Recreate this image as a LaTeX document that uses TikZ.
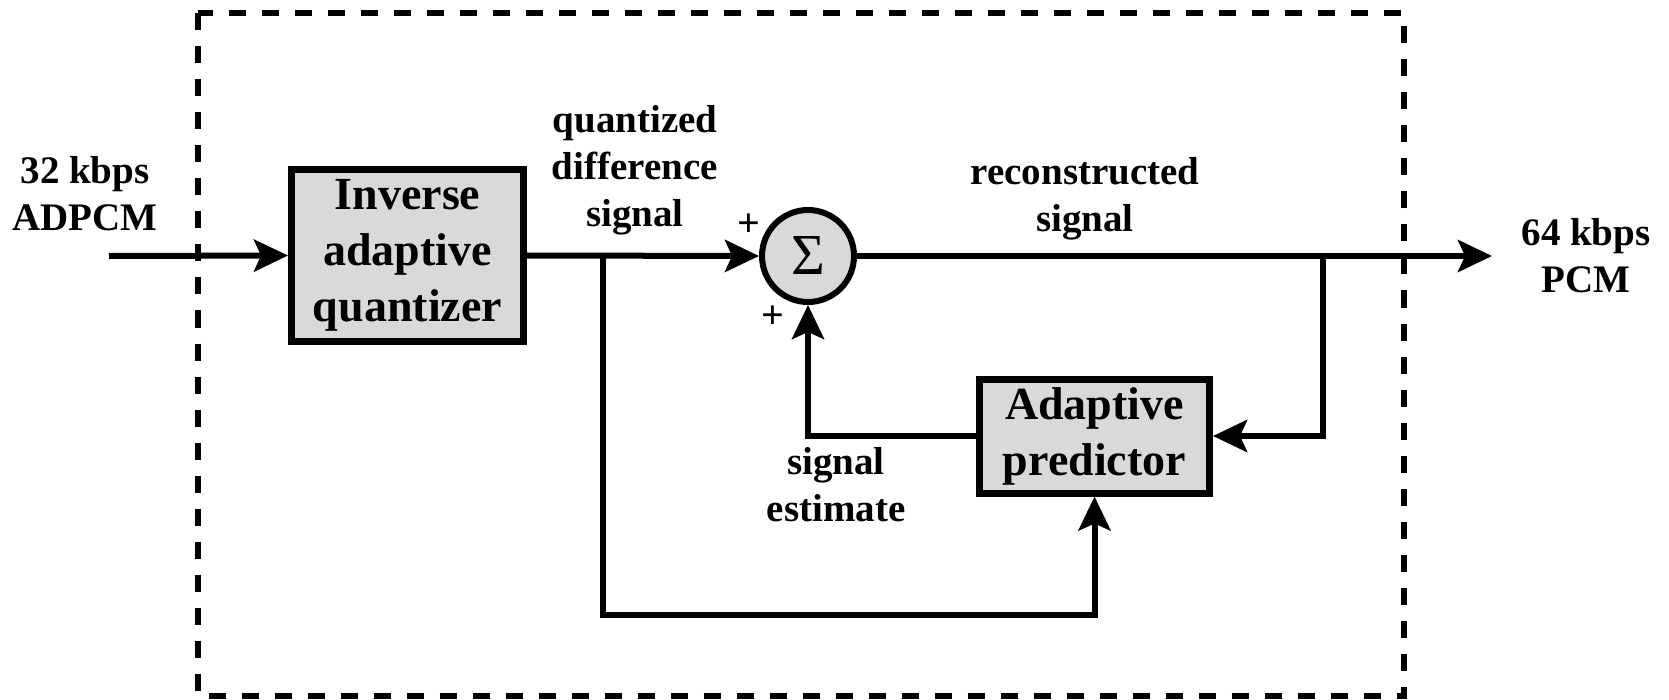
\documentclass[tikz,border=0pt]{standalone}
\usepackage{fontspec}
\setmainfont{Liberation Serif}
\usetikzlibrary{arrows.meta}
\definecolor{boxgray}{gray}{0.85}
\begin{document}
\begin{tikzpicture}[x=1pt,y=-1pt,
  wire/.style={line width=6pt},
  flow/.style={wire,-{Stealth[length=34pt,width=32pt,inset=7pt]}},
  block/.style={draw,line width=7pt,fill=boxgray,inner sep=0pt,align=center,
    font=\fontsize{46}{56}\selectfont\bfseries},
  lbl/.style={align=center,inner sep=0pt,font=\fontsize{39}{47}\selectfont\bfseries},
  sign/.style={inner sep=0pt,font=\fontsize{40}{40}\selectfont\bfseries},
]
\useasboundingbox (0,0) rectangle (1669,700);

% decoder boundary
\draw[line width=6pt,dash pattern=on 17pt off 16pt] (198,13.5) rectangle (1404,696);

% blocks
\node[block,minimum width=232pt,minimum height=172pt] (iaq) at (407.5,255.5)
  {Inverse\\adaptive\\quantizer};
\node[draw,circle,line width=6pt,fill=boxgray,minimum size=92pt,inner sep=0pt] (sum)
  at (808,256) {\fontsize{58}{58}\selectfont Σ};
\node[block,minimum width=230pt,minimum height=114pt] (pred) at (1094.5,436)
  {Adaptive\\predictor};

% branch points and free ends
\coordinate (in) at (109,256);
\coordinate (out) at (1492,256);
\coordinate (tap1) at (603,256);
\coordinate (tap2) at (1323,256);
\coordinate (low) at (603,615);

% signal flow
\draw[flow] (in) -- (iaq.west);
\draw[flow] (iaq.east) -- (sum.west);
\draw[flow] (sum.east) -- (out);
\draw[flow] (tap2) |- (pred.east);
\draw[flow] (pred.west) -| (sum.south);
\draw[flow] (tap1) -- (low) -| (pred.south);

% labels
\node[lbl] (inlbl) at (85,194) {32 kbps\\ADPCM};
\node[lbl] (qlbl) at (635,170) {quantized\\difference\\signal};
\node[lbl] (rlbl) at (1085,199) {reconstructed\\signal};
\node[lbl] (outlbl) at (1586,256) {64 kbps\\PCM};
\node[lbl] (elbl) at (836,485) {signal\\estimate};
\node[sign] (plusa) at (749,225) {+};
\node[sign] (plusb) at (773,317) {+};
\end{tikzpicture}
\end{document}
